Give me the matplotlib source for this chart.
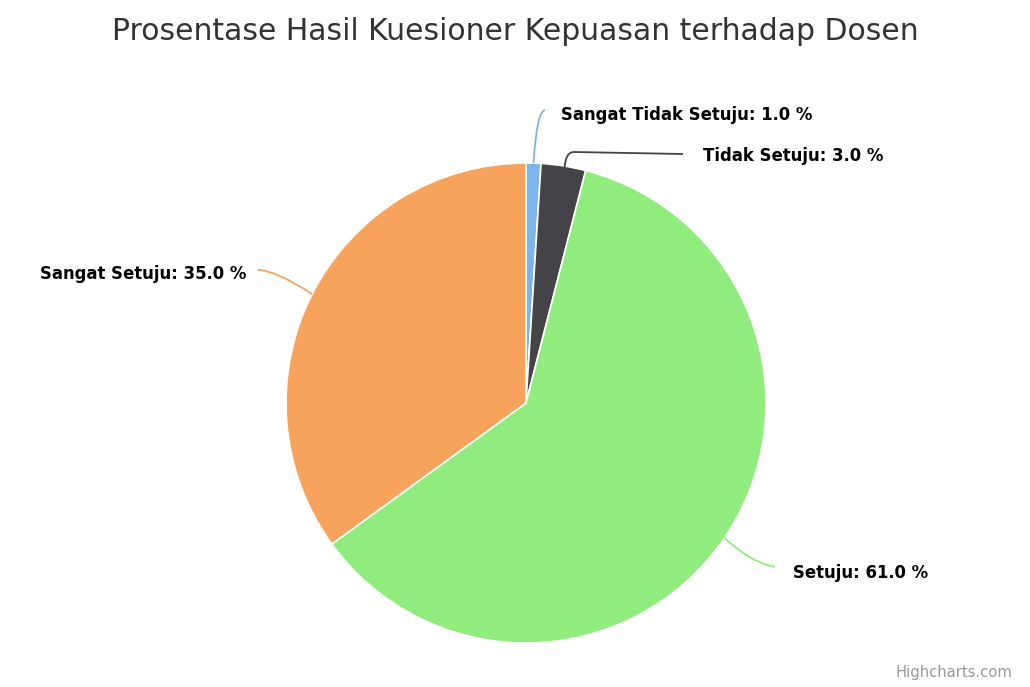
import numpy as np
import matplotlib
matplotlib.use("Agg")
import matplotlib.pyplot as plt
from matplotlib.path import Path
from matplotlib.patches import PathPatch

# data
categories = ["Sangat Tidak Setuju", "Tidak Setuju", "Setuju", "Sangat Setuju"]
values = [1.0, 3.0, 61.0, 35.0]
colors = ["#7cb5ec", "#434348", "#90ed7d", "#f7a35c"]

W, H = 1030, 687
fig = plt.figure(figsize=(W / 100, H / 100), dpi=100)
ax = fig.add_axes([0, 0, 1, 1])
ax.set_xlim(0, W)
ax.set_ylim(0, H)
ax.set_aspect("equal")
ax.axis("off")


def Y(y):
    # image pixel row -> axis y
    return H - y


cx, cy, r = 526, Y(403), 240
wedges, _ = ax.pie(values, colors=colors, startangle=90, counterclock=False,
                   center=(cx, cy), radius=r, frame=True,
                   wedgeprops=dict(edgecolor="white", linewidth=1.2))
ax.set_xlim(0, W)
ax.set_ylim(0, H)
ax.axis("off")


def edge_point(angle):
    a = np.deg2rad(angle)
    return (cx + r * np.cos(a), cy + r * np.sin(a))


def connector(pts, color):
    # pts: start, control, end (+ optional straight tail)
    verts = [pts[0], pts[1], pts[2]]
    codes = [Path.MOVETO, Path.CURVE3, Path.CURVE3]
    for p in pts[3:]:
        verts.append(p)
        codes.append(Path.LINETO)
    ax.add_patch(PathPatch(Path(verts, codes), facecolor="none",
                           edgecolor=color, linewidth=1.3))


mids = [(w.theta1 + w.theta2) / 2 for w in wedges]

# Sangat Tidak Setuju
p0 = edge_point(mids[0])
connector([p0, (p0[0] + 3, Y(112)), (545, Y(110))], colors[0])
# Tidak Setuju
p1 = edge_point(mids[1])
connector([(p1[0] + 1, p1[1] - 2), (p1[0] + 2, Y(152)), (574, Y(152)), (683, Y(154))], colors[1])
# Setuju
p2 = edge_point(mids[2])
connector([p2, (750, Y(562)), (775, Y(567))], colors[2])
# Sangat Setuju
p3 = edge_point(153)
connector([p3, (275, Y(270)), (258, Y(270))], colors[3])

label_kw = dict(fontsize=11.9, fontweight="bold", color="#000000", va="center")
labels = [f"{c}: {v:.1f} %" for c, v in zip(categories, values)]
ax.text(561, Y(115), labels[0], ha="left", **label_kw)
ax.text(703, Y(156), labels[1], ha="left", **label_kw)
ax.text(793, Y(573), labels[2], ha="left", **label_kw)
ax.text(246, Y(274), labels[3], ha="right", **label_kw)

ax.text(515, Y(31), "Prosentase Hasil Kuesioner Kepuasan terhadap Dosen",
        ha="center", va="center", fontsize=21.5, color="#333333")
ax.text(1012, Y(673), "Highcharts.com", ha="right", va="center",
        fontsize=10.6, color="#999999")

fig.savefig("out.png", dpi=100, facecolor="white")
